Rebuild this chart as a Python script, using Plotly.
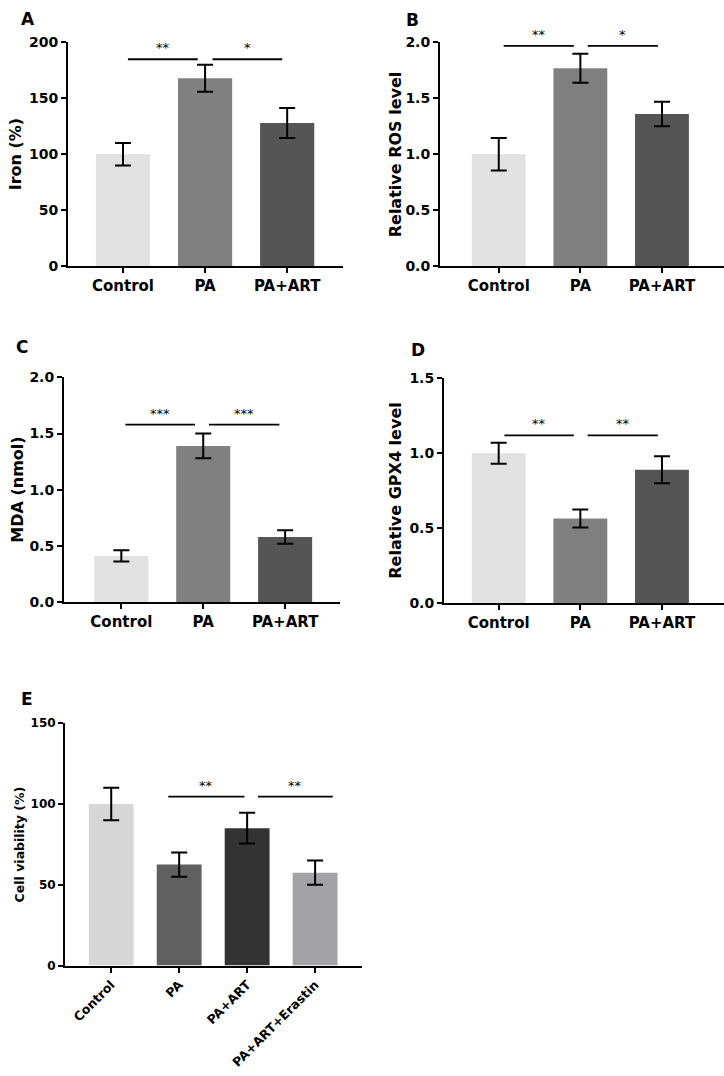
import plotly.graph_objects as go

W, H = 724, 1076

# Panels A-D share the same three groups
groups = ["Control", "PA", "PA+ART"]

iron = [100, 168, 128]
iron_err = [10, 12, 13.5]

ros = [1.0, 1.77, 1.36]
ros_err = [0.145, 0.13, 0.11]

mda = [0.41, 1.39, 0.58]
mda_err = [0.05, 0.11, 0.06]

gpx4 = [1.0, 0.565, 0.89]
gpx4_err = [0.07, 0.06, 0.09]

# Panel E
groups_e = ["Control", "PA", "PA+ART", "PA+ART+Erastin"]
viability = [100, 62.5, 85, 57.5]
viability_err = [10, 7.5, 9.5, 7.5]

# significance brackets: (x start, x end, y, label)
sig_a = [(0.06, 0.91, 185, "**"), (1.09, 1.94, 185, "*")]
sig_b = [(0.06, 0.92, 1.97, "**"), (1.09, 1.95, 1.97, "*")]
sig_c = [(0.05, 0.90, 1.58, "***"), (1.07, 1.93, 1.58, "***")]
sig_d = [(0.07, 0.92, 1.12, "**"), (1.09, 1.95, 1.12, "**")]
sig_e = [(0.84, 1.96, 104.5, "**"), (2.16, 3.26, 104.5, "**")]

grey3 = ["#e1e1e1", "#808080", "#555555"]
grey4 = ["#d6d6d6", "#606060", "#333333", "#a3a3a7"]

FONT = "DejaVu Sans"


def px_x(x0, x1):
    return [x0 / W, x1 / W]


def px_y(top, bottom):
    return [1 - bottom / H, 1 - top / H]


# pixel boxes of each plot area: (left, right, top, bottom), x range, y range, ticks
panels = [
    dict(x=groups, y=iron, err=iron_err, colors=grey3, box=(68, 343, 35, 262),
         xr=[-0.67, 2.68], yr=[0, 200], dtick=50, fmt="", title="Iron (%)",
         letter="A", lxy=(28, 11), sig=sig_a, tx=15, fs=14, ts=16, cat=15, angle=0),
    dict(x=groups, y=ros, err=ros_err, colors=grey3, box=(440, 724, 35, 262),
         xr=[-0.72, 2.76], yr=[0, 2.0], dtick=0.5, fmt=".1f", title="Relative ROS level",
         letter="B", lxy=(412, 12), sig=sig_b, tx=395, fs=14, ts=16, cat=15, angle=0),
    dict(x=groups, y=mda, err=mda_err, colors=grey3, box=(64, 340, 375, 603),
         xr=[-0.70, 2.67], yr=[0, 2.0], dtick=0.5, fmt=".1f", title="MDA (nmol)",
         letter="C", lxy=(22, 344), sig=sig_c, tx=18, fs=14, ts=16, cat=15, angle=0),
    dict(x=groups, y=gpx4, err=gpx4_err, colors=grey3, box=(444, 724, 376, 604),
         xr=[-0.67, 2.76], yr=[0, 1.5], dtick=0.5, fmt=".1f", title="Relative GPX4 level",
         letter="D", lxy=(418, 347), sig=sig_d, tx=396, fs=14, ts=16, cat=15, angle=0),
    dict(x=groups_e, y=viability, err=viability_err, colors=grey4, box=(65, 362, 726, 972),
         xr=[-0.68, 3.69], yr=[0, 150], dtick=50, fmt="", title="Cell viability (%)",
         letter="E", lxy=(27, 701), sig=sig_e, tx=19, fs=12, ts=12.5, cat=12.5, angle=-45),
]

fig = go.Figure()
shapes = []
annotations = []
layout = {}

for i, p in enumerate(panels):
    n = "" if i == 0 else str(i + 1)
    xref, yref = "x" + n, "y" + n
    left, right, top, bottom = p["box"]

    fig.add_trace(go.Bar(
        x=p["x"], y=p["y"],
        marker=dict(color=p["colors"], line=dict(width=0)),
        error_y=dict(type="data", array=p["err"], color="black", thickness=2, width=8),
        width=0.66,
        xaxis=xref, yaxis=yref,
        showlegend=False,
    ))

    layout["xaxis" + n] = dict(
        domain=px_x(left, right), anchor=yref, range=p["xr"],
        showline=True, linecolor="black", linewidth=2,
        ticks="outside", ticklen=5, tickwidth=2, tickcolor="black",
        tickangle=p["angle"], showgrid=False, zeroline=False,
        tickfont=dict(family=FONT, size=p["cat"], color="black", weight="bold"),
    )
    layout["yaxis" + n] = dict(
        domain=px_y(top, bottom), anchor=xref, range=p["yr"],
        dtick=p["dtick"], tickformat=p["fmt"],
        showline=True, linecolor="black", linewidth=2,
        ticks="outside", ticklen=5, tickwidth=2, tickcolor="black",
        showgrid=False, zeroline=False,
        tickfont=dict(family=FONT, size=p["fs"], color="black", weight="bold"),
    )

    # y axis title
    annotations.append(dict(
        text=p["title"], xref="paper", yref="paper",
        x=p["tx"] / W, y=1 - (top + bottom) / 2 / H, textangle=-90,
        showarrow=False, xanchor="center", yanchor="middle",
        font=dict(family=FONT, size=p["ts"], color="black", weight="bold"),
    ))
    # panel letter
    annotations.append(dict(
        text=p["letter"], xref="paper", yref="paper",
        x=p["lxy"][0] / W, y=1 - p["lxy"][1] / H,
        showarrow=False, xanchor="center", yanchor="middle",
        font=dict(family=FONT, size=17, color="black", weight="bold"),
    ))

    # significance lines and stars
    for x0, x1, yv, label in p["sig"]:
        shapes.append(dict(type="line", xref=xref, yref=yref,
                           x0=x0, x1=x1, y0=yv, y1=yv,
                           line=dict(color="black", width=1.8)))
        annotations.append(dict(
            text=label, xref=xref, yref=yref, x=(x0 + x1) / 2, y=yv,
            showarrow=False, yanchor="bottom", yshift=2,
            font=dict(family=FONT, size=13, color="black"),
        ))

fig.update_layout(
    width=W, height=H,
    margin=dict(l=0, r=0, t=0, b=0),
    plot_bgcolor="white", paper_bgcolor="white",
    bargap=0.34,
    shapes=shapes,
    annotations=annotations,
    **layout,
)

# drop the default 8px page margin so the figure fills the window exactly
fig.write_html("out.html", config={"displayModeBar": False},
               post_script="document.body.style.margin='0';")
